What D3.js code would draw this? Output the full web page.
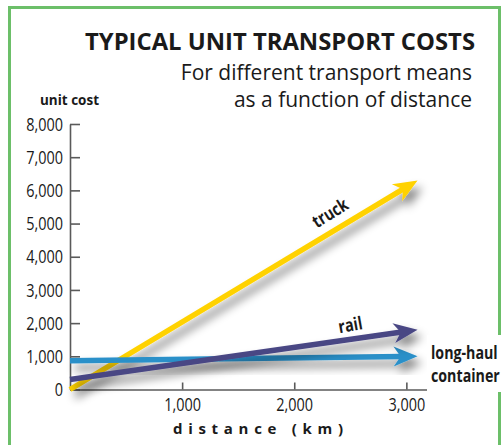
<!DOCTYPE html>
<meta charset="utf-8">
<head>
<style>
  body { margin: 0; background: #fff; }
  text { fill: #1a1a1a; font-family: "Open Sans", sans-serif; }
  .tick text { font-size: 19px; }
  .axis path, .axis line { stroke: #5a5a5a; stroke-width: 1.6; }
  .lab { font-weight: bold; }
</style>
</head>
<body>
<svg id="chart"></svg>
<script src="https://cdn.jsdelivr.net/npm/d3@7"></script>
<script>

// values
var series = ["truck", "rail", "long-haul container"];
var distance = [0, 3100];
var truckCost = [0, 6300];
var railCost = [300, 1800];
var containerCost = [870, 1000];
var yTicks = [0, 1000, 2000, 3000, 4000, 5000, 6000, 7000, 8000];
var xTicks = [1000, 2000, 3000];

var colors = {"truck": "#ffd200", "rail": "#4a4784", "long-haul container": "#2a90c9"};

var W = 501, H = 445;

var svg = d3.select("#chart")
    .attr("width", W)
    .attr("height", H);

var x = d3.scaleLinear().domain([0, 3300]).range([70, 440]);
var y = d3.scaleLinear().domain([0, 8000]).range([389.5, 124]);

// squeeze glyphs to look like a condensed face
function condense(sel, k) {
  sel.each(function() {
    var w = this.getComputedTextLength();
    d3.select(this).attr("textLength", w * k).attr("lengthAdjust", "spacingAndGlyphs");
  });
}

// drop shadow
var defs = svg.append("defs");
var f = defs.append("filter").attr("id", "shadow")
    .attr("x", "-20%").attr("y", "-20%").attr("width", "150%").attr("height", "160%");
f.append("feGaussianBlur").attr("in", "SourceAlpha").attr("stdDeviation", 5).attr("result", "b");
f.append("feOffset").attr("in", "b").attr("dx", 5).attr("dy", 7).attr("result", "o");
f.append("feComponentTransfer").attr("in", "o").attr("result", "s")
  .append("feFuncA").attr("type", "linear").attr("slope", 0.5);
var m = f.append("feMerge");
m.append("feMergeNode").attr("in", "s");
m.append("feMergeNode").attr("in", "SourceGraphic");

// green frame
svg.append("rect")
    .attr("x", 9.5).attr("y", 7.5)
    .attr("width", 490).attr("height", 450)
    .attr("fill", "none")
    .attr("stroke", "#6cbf69")
    .attr("stroke-width", 3);

// title
svg.append("text")
    .attr("x", 475).attr("y", 50)
    .attr("text-anchor", "end")
    .attr("textLength", 390)
    .attr("lengthAdjust", "spacingAndGlyphs")
    .style("font-weight", "bold")
    .style("font-size", "23px")
    .text("TYPICAL UNIT TRANSPORT COSTS");

svg.append("text")
    .attr("x", 472).attr("y", 80)
    .attr("text-anchor", "end")
    .style("font-size", "21px")
    .text("For different transport means");

svg.append("text")
    .attr("x", 472).attr("y", 107)
    .attr("text-anchor", "end")
    .style("font-size", "21px")
    .text("as a function of distance");

svg.append("text")
    .attr("class", "lab")
    .attr("x", 69.5).attr("y", 105)
    .attr("text-anchor", "middle")
    .attr("textLength", 59)
    .attr("lengthAdjust", "spacingAndGlyphs")
    .style("font-size", "15px")
    .text("unit cost");

// axes
svg.append("g")
    .attr("class", "axis")
    .attr("transform", "translate(" + x(0) + ",0)")
    .call(d3.axisLeft(y).tickValues(yTicks).tickFormat(d3.format(",")).tickSizeInner(-10).tickSizeOuter(0).tickPadding(7));

svg.append("g")
    .attr("class", "axis")
    .attr("transform", "translate(0," + y(0) + ")")
    .call(d3.axisBottom(x).tickValues(xTicks).tickFormat(d3.format(",")).tickSizeInner(-7).tickSizeOuter(0).tickPadding(8.5));

svg.selectAll(".axis .domain").attr("stroke", "#5a5a5a");
condense(svg.selectAll(".tick text"), 0.76);

svg.append("text")
    .attr("x", 258).attr("y", 434)
    .attr("text-anchor", "middle")
    .attr("textLength", 170)
    .attr("lengthAdjust", "spacing")
    .style("font-weight", "bold")
    .style("font-size", "15px")
    .text("distance (km)");

// lines with arrowheads
var lines = [
  {name: "truck", cost: truckCost},
  {name: "long-haul container", cost: containerCost},
  {name: "rail", cost: railCost}
];

lines.forEach(function(s) {
  var x0 = x(distance[0]), y0 = y(s.cost[0]);
  var x1 = x(distance[1]), y1 = y(s.cost[1]);
  var len = Math.hypot(x1 - x0, y1 - y0);
  var ux = (x1 - x0) / len, uy = (y1 - y0) / len;
  var nx = -uy, ny = ux;
  var L = 24, hw = 10, notch = 7;
  var g = svg.append("g").attr("filter", "url(#shadow)");
  g.append("line")
      .attr("x1", x0).attr("y1", y0)
      .attr("x2", x1 - ux * (L - notch - 1)).attr("y2", y1 - uy * (L - notch - 1))
      .attr("stroke", colors[s.name])
      .attr("stroke-width", 5.5);
  var bx = x1 - ux * L, by = y1 - uy * L;
  var pts = [
    [x1, y1],
    [bx + nx * hw, by + ny * hw],
    [x1 - ux * (L - notch), y1 - uy * (L - notch)],
    [bx - nx * hw, by - ny * hw]
  ];
  g.append("path")
      .attr("d", "M" + pts.join("L") + "Z")
      .attr("fill", colors[s.name]);
});

// labels along lines
function lineLabel(cost, d, off, rot, txt) {
  var x0 = x(distance[0]), y0 = y(cost[0]);
  var x1 = x(distance[1]), y1 = y(cost[1]);
  var ang = Math.atan2(y1 - y0, x1 - x0);
  var px = x(d), py = y(cost[0] + (cost[1] - cost[0]) * d / distance[1]);
  px += Math.sin(ang) * off;
  py -= Math.cos(ang) * off;
  var t = svg.append("text")
      .attr("class", "lab")
      .attr("text-anchor", "middle")
      .attr("transform", "translate(" + px + "," + py + ") rotate(" + (ang * 180 / Math.PI + rot) + ")")
      .style("font-size", "18px")
      .text(txt);
  condense(t, 0.8);
}
lineLabel(truckCost, 2400, 11, -1, "truck");
lineLabel(railCost, 2520, 8, -2, "rail");

// end label over the frame
svg.append("rect")
    .attr("x", 427).attr("y", 335)
    .attr("width", 74).attr("height", 57)
    .attr("fill", "#fff");
svg.append("text")
    .attr("class", "lab")
    .attr("transform", "translate(431,359) scale(0.79,1)")
    .style("font-size", "18px")
    .text("long-haul");
svg.append("text")
    .attr("class", "lab")
    .attr("transform", "translate(431,382) scale(0.79,1)")
    .style("font-size", "18px")
    .text("container");

</script>
</body>
